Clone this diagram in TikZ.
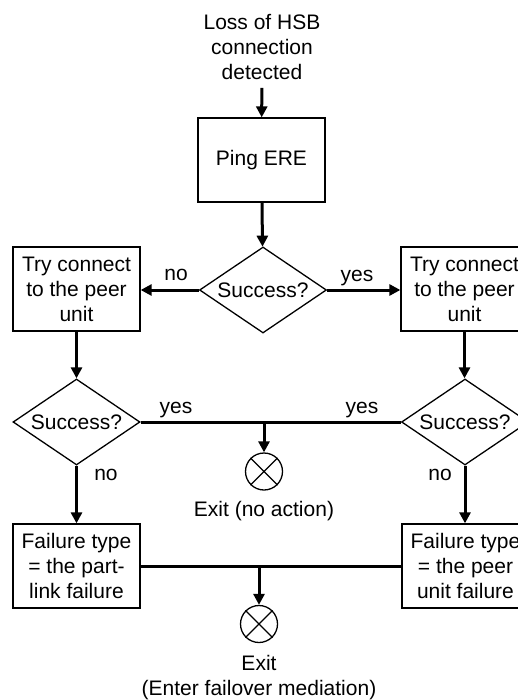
\documentclass[tikz,border=0pt]{standalone}
\usepackage{fontspec}
\setmainfont{Liberation Sans}
\usetikzlibrary{shapes.geometric,arrows.meta}
\begin{document}
\begin{tikzpicture}[x=1pt,y=-1pt,
  every node/.style={font=\fontsize{21}{25}\selectfont,inner sep=2pt},
  box/.style={draw,line width=1.3pt,minimum width=127pt,minimum height=84pt,align=center},
  dec/.style={draw,diamond,line width=1.3pt,aspect=1.48,minimum width=127pt,minimum height=86pt,inner sep=0pt},
  conn/.style={line width=3pt},
  arr/.style={conn,-{Triangle[length=11pt,width=11pt]}},
  exitc/.style={draw,circle,line width=1.3pt,minimum size=37pt,inner sep=0pt},
  lbl/.style={anchor=base}]
\useasboundingbox (0,0) rectangle (518,700);
\clip (0,0) rectangle (518,700);
\fill[white] (0,0) rectangle (518,700);

\node[align=center] (start) at (262,47) {Loss of HSB\\connection\\detected};
\node[box] (ping) at (261.5,160) {Ping ERE};
\node[dec] (d0) at (263,290) {Success?};
\node[box] (tryL) at (76.5,289) {Try connect\\to the peer\\unit};
\node[box] (tryR) at (464.5,289) {Try connect\\to the peer\\unit};
\node[dec] (dL) at (76.5,422) {Success?};
\node[dec] (dR) at (465,422) {Success?};
\node[exitc] (x1) at (264,471.5) {};
\node (x1t) at (264,511) {Exit (no action)};
\node[box] (fL) at (76.5,566) {Failure type\\= the part-\\link failure};
\node[box] (fR) at (465.5,566) {Failure type\\= the peer\\unit failure};
\node[exitc] (x2) at (259,624) {};
\node[align=center] (x2t) at (259,678) {Exit\\(Enter failover mediation)};

\draw[line width=1.3pt] (x1.north west) -- (x1.south east) (x1.north east) -- (x1.south west);
\draw[line width=1.3pt] (x2.north west) -- (x2.south east) (x2.north east) -- (x2.south west);

\draw[arr,shorten <=6pt] (start) -- (ping);
\draw[arr] (ping) -- (d0);
\draw[arr] (d0.west) -- (d0.west -| tryL.east);
\draw[arr] (d0.east) -- (d0.east -| tryR.west);
\draw[arr] (tryL) -- (dL);
\draw[arr] (tryR.south) -- (tryR.south |- dR.north);
\draw[conn] (dL.east) -- (dR.west);
\coordinate (j1) at (x1 |- dL.east);
\draw[arr] (j1) -- (x1);
\draw[arr] (dL) -- (fL);
\draw[arr] (dR.south) -- (dR.south |- fR.north);
\draw[conn] (fL.east) -- (fR.west);
\coordinate (j2) at (x2 |- fL.east);
\draw[arr] (j2) -- (x2);

\node[lbl] (nL0) at (176,280) {no};
\node[lbl] (yR0) at (357,281) {yes};
\node[lbl] (yL1) at (176,413) {yes};
\node[lbl] (yR1) at (362,413) {yes};
\node[lbl] (nL1) at (106,480) {no};
\node[lbl] (nR1) at (440,480) {no};
\end{tikzpicture}
\end{document}
